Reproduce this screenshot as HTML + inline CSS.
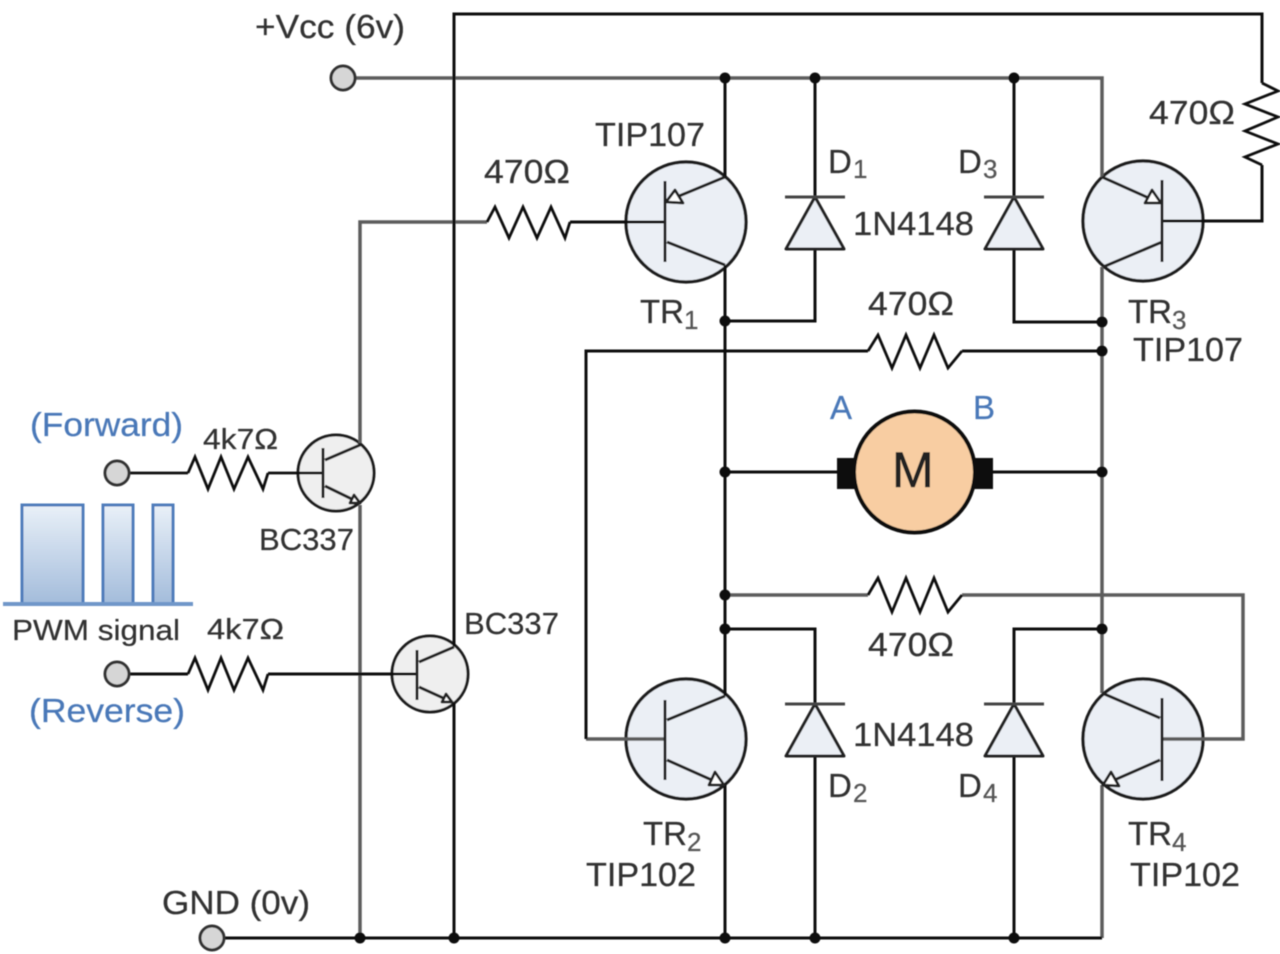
<!DOCTYPE html>
<html><head><meta charset="utf-8"><style>
html,body{margin:0;padding:0;background:#fff}
svg{display:block}
text{font-family:"Liberation Sans","DejaVu Sans",sans-serif;fill:#333;font-size:33px;stroke:#333;stroke-width:.25px}
.s{font-size:26px;fill:#555;stroke:#555}
.b{fill:#4a78b8;stroke:#4a78b8}
</style></head><body>
<svg width="1280" height="954" viewBox="0 0 1280 954" xmlns="http://www.w3.org/2000/svg">
<defs>
<linearGradient id="g" x1="0" y1="0" x2="0" y2="1"><stop offset="0" stop-color="#e9f0f8"/><stop offset="1" stop-color="#a3bcdb"/></linearGradient>
<filter id="f" x="-5%" y="-5%" width="110%" height="110%"><feGaussianBlur stdDeviation="0.45"/></filter>
</defs>
<g filter="url(#f)">
<!-- PWM -->
<path d="M22 604V505H83V604ZM103 604V505H133V604ZM153 604V505H173V604Z" fill="url(#g)" stroke="#4f7dbb" stroke-width="3"/>
<path d="M3 604H193" fill="none" stroke="#6f97c9" stroke-width="4"/>
<!-- transistor discs -->
<g fill="#ebeff5" stroke="#1a1a1a" stroke-width="3.2">
<circle cx="686" cy="222" r="60"/><circle cx="1143" cy="221" r="60"/>
<circle cx="686" cy="739" r="60"/><circle cx="1143" cy="739" r="60"/>
</g>
<g fill="#efefef" stroke="#1a1a1a" stroke-width="3">
<circle cx="336" cy="473" r="38"/><circle cx="430" cy="674" r="38"/>
</g>
<!-- grey rails -->
<g fill="none" stroke="#5c5c5c" stroke-width="3.5">
<path d="M343 78H1102V177M1102 267V693M1102 785V938"/>
<path d="M360 938V505M360 443V222H487"/>
<path d="M725 595H868M962 595H1243V739H1205"/>
<path d="M586 739H665"/>
<path d="M1162 739H1205"/>
</g>
<!-- black wires -->
<g fill="none" stroke="#111" stroke-width="3">
<path d="M454 938V703M454 646V14H1262V83"/>
<path d="M725 78V177M725 265V696M725 783V938"/>
<path d="M212 938H1102"/>
<path d="M815 78V197M815 249V321H725"/>
<path d="M1014 78V197M1014 249V322H1102"/>
<path d="M725 629H815V704M815 756V938"/>
<path d="M1102 629H1014V704M1014 756V938"/>
<path d="M586 739V351H868M962 351H1102"/>
<path d="M725 472H837M993 472H1102"/>
<path d="M570 222H665"/>
<path d="M1162 221H1262V165"/>
<path d="M117 674H188M268 674H417" />
</g>
<g fill="none" stroke="#111" stroke-width="2.8">
<path d="M117 473H188M268 473H323"/>
<!-- resistors -->
<path d="M487 222L495 207L509 238L523 207L537 238L551 207L565 238L570 222"/>
<path d="M868 351L878 335L892 368L906 335L920 368L934 335L948 368L962 351"/>
<path d="M868 595L878 578L892 612L906 578L920 612L934 578L948 612L962 595"/>
<path d="M1262 83L1278 91L1245 104L1278 117L1245 131L1278 144L1245 157L1262 165"/>
<path d="M188 473L195 457L208 489L221 457L234 489L248 457L263 489L268 473"/>
<path d="M188 674L195 658L208 690L221 658L234 690L248 658L263 690L268 674"/>
</g>
<!-- transistor internals -->
<g fill="none" stroke="#222" stroke-width="3">
<path d="M665 181V262M725 177L667 201M667 242L725 265"/>
<path d="M1162 180V262M1102 177L1160 203M1162 242L1103 267"/>
<path d="M665 700V780M725 696L667 720M667 760L723 785"/>
<path d="M1162 698V781M1102 693L1160 718M1160 760L1103 785"/>
<path d="M323 448V498M325 460L360 445M325 486L360 503"/>
<path d="M417 650V700M419 662L454 647M419 687L452 702"/>
</g>
<!-- arrowheads -->
<g fill="#fff" stroke="#222" stroke-width="2.8" stroke-linejoin="round">
<path d="M666 202L675 190L683 203Z"/>
<path d="M1161 203L1152 190L1145 203Z"/>
<path d="M724 785L715 772L709 785Z"/>
<path d="M1103 785L1111 772L1119 786Z"/>
<path d="M360 503L354 495L350 503Z"/>
<path d="M452 702L446 694L442 702Z"/>
</g>
<!-- diodes -->
<g fill="#ebeff5" stroke="#222" stroke-width="3" stroke-linejoin="round">
<path d="M815 197L786 249H844Z"/><path d="M1014 197L985 249H1043Z"/>
<path d="M815 704L786 756H844Z"/><path d="M1014 704L985 756H1043Z"/>
</g>
<g stroke="#444" stroke-width="3">
<path d="M785 197H845M984 197H1044M785 704H845M984 704H1044"/>
</g>
<!-- motor -->
<rect x="837" y="458" width="20" height="31" fill="#111"/>
<rect x="972" y="458" width="21" height="31" fill="#111"/>
<circle cx="914.500" cy="472" r="60.500" fill="#f8cda2" stroke="#111" stroke-width="4"/>
<!-- terminals -->
<g fill="#d6d6d6" stroke="#333" stroke-width="3">
<circle cx="343" cy="78" r="12"/><circle cx="117" cy="473" r="12"/>
<circle cx="117" cy="674" r="12"/><circle cx="212" cy="938" r="12"/>
</g>
<!-- junctions -->
<g fill="#111">
<circle cx="725" cy="78" r="5.500"/><circle cx="815" cy="78" r="5.500"/><circle cx="1014" cy="78" r="5.500"/>
<circle cx="725" cy="321" r="5.500"/><circle cx="1102" cy="322" r="5.500"/><circle cx="1102" cy="351" r="5.500"/>
<circle cx="725" cy="472" r="5.500"/><circle cx="1102" cy="472" r="5.500"/>
<circle cx="725" cy="595" r="5.500"/><circle cx="725" cy="629" r="5.500"/><circle cx="1102" cy="629" r="5.500"/>
<circle cx="360" cy="938" r="5.500"/><circle cx="454" cy="938" r="5.500"/><circle cx="725" cy="938" r="5.500"/>
<circle cx="815" cy="938" r="5.500"/><circle cx="1014" cy="938" r="5.500"/>
</g>
<!-- labels -->
<text x="255" y="38" textLength="150" lengthAdjust="spacingAndGlyphs">+Vcc (6v)</text>
<text x="595" y="146" textLength="110" lengthAdjust="spacingAndGlyphs">TIP107</text>
<text x="484" y="183" textLength="86" lengthAdjust="spacingAndGlyphs">470Ω</text>
<text x="828" y="173">D</text><text class="s" x="853" y="178">1</text>
<text x="958" y="173">D</text><text class="s" x="983" y="178">3</text>
<text x="853" y="235" textLength="121" lengthAdjust="spacingAndGlyphs">1N4148</text>
<text x="1149" y="124" textLength="86" lengthAdjust="spacingAndGlyphs">470Ω</text>
<text x="640" y="323" textLength="44" lengthAdjust="spacingAndGlyphs">TR</text><text class="s" x="684" y="329">1</text>
<text x="1128" y="323" textLength="44" lengthAdjust="spacingAndGlyphs">TR</text><text class="s" x="1172" y="329">3</text>
<text x="1133" y="361" textLength="110" lengthAdjust="spacingAndGlyphs">TIP107</text>
<text x="868" y="315" textLength="86" lengthAdjust="spacingAndGlyphs">470Ω</text>
<text class="b" x="830" y="419" style="font-size:33px">A</text>
<text class="b" x="973" y="419" style="font-size:33px">B</text>
<text x="892" y="487" style="font-size:50px;fill:#222;stroke:#222;stroke-width:.6px">M</text>
<text class="b" x="30" y="436" textLength="153" lengthAdjust="spacingAndGlyphs">(Forward)</text>
<text x="203" y="449" textLength="75" lengthAdjust="spacingAndGlyphs" style="font-size:29px">4k7Ω</text>
<text x="259" y="550" textLength="95" lengthAdjust="spacingAndGlyphs" style="font-size:31px">BC337</text>
<text x="12" y="640" textLength="168" lengthAdjust="spacingAndGlyphs" style="font-size:29px">PWM signal</text>
<text x="207" y="639" textLength="77" lengthAdjust="spacingAndGlyphs" style="font-size:29px">4k7Ω</text>
<text class="b" x="29" y="722" textLength="156" lengthAdjust="spacingAndGlyphs">(Reverse)</text>
<text x="464" y="634" textLength="95" lengthAdjust="spacingAndGlyphs" style="font-size:31px">BC337</text>
<text x="868" y="656" textLength="86" lengthAdjust="spacingAndGlyphs">470Ω</text>
<text x="853" y="746" textLength="121" lengthAdjust="spacingAndGlyphs">1N4148</text>
<text x="828" y="797">D</text><text class="s" x="853" y="802">2</text>
<text x="958" y="797">D</text><text class="s" x="983" y="802">4</text>
<text x="643" y="845" textLength="44" lengthAdjust="spacingAndGlyphs">TR</text><text class="s" x="687" y="851">2</text>
<text x="1128" y="845" textLength="44" lengthAdjust="spacingAndGlyphs">TR</text><text class="s" x="1172" y="851">4</text>
<text x="586" y="886" textLength="110" lengthAdjust="spacingAndGlyphs">TIP102</text>
<text x="1130" y="886" textLength="110" lengthAdjust="spacingAndGlyphs">TIP102</text>
<text x="162" y="914" textLength="148" lengthAdjust="spacingAndGlyphs">GND (0v)</text>
</g>
</svg>
</body></html>
